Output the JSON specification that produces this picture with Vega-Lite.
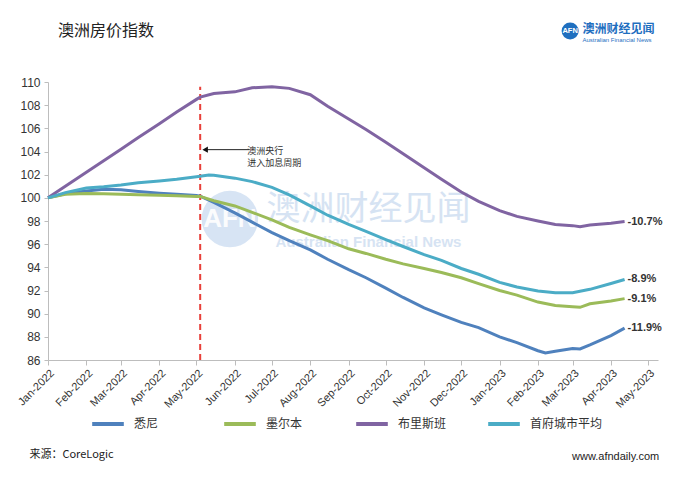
{
  "$schema": "https://vega.github.io/schema/vega-lite/v6.json",
  "width": 610,
  "height": 278,
  "autosize": {"type": "none"},
  "padding": {"left": 48, "top": 82, "right": 20, "bottom": 118},
  "background": "white",
  "config": {
    "view": {"stroke": null},
    "font": "Liberation Sans",
    "axis": {"labelFont": "Liberation Sans", "domainColor": "#bdbdbd", "tickColor": "#bdbdbd", "labelColor": "#333333", "grid": false, "title": null},
    "legend": {"labelFont": "Noto Sans CJK SC"}
  },
  "data": {"values": [
    {"date": "2022-01-01", "city": "悉尼", "value": 100},
    {"date": "2022-01-15", "city": "悉尼", "value": 100.35},
    {"date": "2022-02-01", "city": "悉尼", "value": 100.6},
    {"date": "2022-02-15", "city": "悉尼", "value": 100.75},
    {"date": "2022-03-01", "city": "悉尼", "value": 100.7},
    {"date": "2022-03-15", "city": "悉尼", "value": 100.55},
    {"date": "2022-04-01", "city": "悉尼", "value": 100.4},
    {"date": "2022-04-15", "city": "悉尼", "value": 100.3},
    {"date": "2022-05-01", "city": "悉尼", "value": 100.2},
    {"date": "2022-05-04", "city": "悉尼", "value": 100.15},
    {"date": "2022-05-15", "city": "悉尼", "value": 99.6},
    {"date": "2022-06-01", "city": "悉尼", "value": 98.7},
    {"date": "2022-06-15", "city": "悉尼", "value": 97.9},
    {"date": "2022-07-01", "city": "悉尼", "value": 97.0},
    {"date": "2022-07-15", "city": "悉尼", "value": 96.3},
    {"date": "2022-08-01", "city": "悉尼", "value": 95.5},
    {"date": "2022-08-15", "city": "悉尼", "value": 94.7},
    {"date": "2022-09-01", "city": "悉尼", "value": 93.8},
    {"date": "2022-09-15", "city": "悉尼", "value": 93.1},
    {"date": "2022-10-01", "city": "悉尼", "value": 92.2},
    {"date": "2022-10-15", "city": "悉尼", "value": 91.4},
    {"date": "2022-11-01", "city": "悉尼", "value": 90.5},
    {"date": "2022-11-15", "city": "悉尼", "value": 89.9},
    {"date": "2022-12-01", "city": "悉尼", "value": 89.25},
    {"date": "2022-12-15", "city": "悉尼", "value": 88.8},
    {"date": "2023-01-01", "city": "悉尼", "value": 88.0},
    {"date": "2023-01-15", "city": "悉尼", "value": 87.5},
    {"date": "2023-02-01", "city": "悉尼", "value": 86.8},
    {"date": "2023-02-07", "city": "悉尼", "value": 86.6},
    {"date": "2023-02-15", "city": "悉尼", "value": 86.75},
    {"date": "2023-03-01", "city": "悉尼", "value": 87.0},
    {"date": "2023-03-07", "city": "悉尼", "value": 86.95},
    {"date": "2023-03-15", "city": "悉尼", "value": 87.3},
    {"date": "2023-04-01", "city": "悉尼", "value": 88.1},
    {"date": "2023-04-12", "city": "悉尼", "value": 88.75},
    {"date": "2022-01-01", "city": "墨尔本", "value": 100},
    {"date": "2022-01-15", "city": "墨尔本", "value": 100.3},
    {"date": "2022-02-01", "city": "墨尔本", "value": 100.38},
    {"date": "2022-02-15", "city": "墨尔本", "value": 100.36},
    {"date": "2022-03-01", "city": "墨尔本", "value": 100.32},
    {"date": "2022-03-15", "city": "墨尔本", "value": 100.27},
    {"date": "2022-04-01", "city": "墨尔本", "value": 100.22},
    {"date": "2022-04-15", "city": "墨尔本", "value": 100.18},
    {"date": "2022-05-01", "city": "墨尔本", "value": 100.12},
    {"date": "2022-05-04", "city": "墨尔本", "value": 100.12},
    {"date": "2022-05-15", "city": "墨尔本", "value": 99.75},
    {"date": "2022-06-01", "city": "墨尔本", "value": 99.3},
    {"date": "2022-06-15", "city": "墨尔本", "value": 98.75},
    {"date": "2022-07-01", "city": "墨尔本", "value": 98.1},
    {"date": "2022-07-15", "city": "墨尔本", "value": 97.45},
    {"date": "2022-08-01", "city": "墨尔本", "value": 96.8},
    {"date": "2022-08-15", "city": "墨尔本", "value": 96.3},
    {"date": "2022-09-01", "city": "墨尔本", "value": 95.6},
    {"date": "2022-09-15", "city": "墨尔本", "value": 95.2},
    {"date": "2022-10-01", "city": "墨尔本", "value": 94.7},
    {"date": "2022-10-15", "city": "墨尔本", "value": 94.3},
    {"date": "2022-11-01", "city": "墨尔本", "value": 93.9},
    {"date": "2022-11-15", "city": "墨尔本", "value": 93.55},
    {"date": "2022-12-01", "city": "墨尔本", "value": 93.1},
    {"date": "2022-12-15", "city": "墨尔本", "value": 92.6},
    {"date": "2023-01-01", "city": "墨尔本", "value": 92.0},
    {"date": "2023-01-15", "city": "墨尔本", "value": 91.6},
    {"date": "2023-02-01", "city": "墨尔本", "value": 91.0},
    {"date": "2023-02-15", "city": "墨尔本", "value": 90.7},
    {"date": "2023-03-01", "city": "墨尔本", "value": 90.6},
    {"date": "2023-03-07", "city": "墨尔本", "value": 90.55},
    {"date": "2023-03-15", "city": "墨尔本", "value": 90.85},
    {"date": "2023-04-01", "city": "墨尔本", "value": 91.1},
    {"date": "2023-04-12", "city": "墨尔本", "value": 91.3},
    {"date": "2022-01-01", "city": "布里斯班", "value": 100},
    {"date": "2022-01-15", "city": "布里斯班", "value": 101.0},
    {"date": "2022-02-01", "city": "布里斯班", "value": 102.2},
    {"date": "2022-02-15", "city": "布里斯班", "value": 103.2},
    {"date": "2022-03-01", "city": "布里斯班", "value": 104.2},
    {"date": "2022-03-15", "city": "布里斯班", "value": 105.2},
    {"date": "2022-04-01", "city": "布里斯班", "value": 106.4},
    {"date": "2022-04-15", "city": "布里斯班", "value": 107.4},
    {"date": "2022-05-01", "city": "布里斯班", "value": 108.5},
    {"date": "2022-05-04", "city": "布里斯班", "value": 108.7},
    {"date": "2022-05-15", "city": "布里斯班", "value": 109.0},
    {"date": "2022-06-01", "city": "布里斯班", "value": 109.15},
    {"date": "2022-06-15", "city": "布里斯班", "value": 109.5},
    {"date": "2022-07-01", "city": "布里斯班", "value": 109.6},
    {"date": "2022-07-15", "city": "布里斯班", "value": 109.45},
    {"date": "2022-08-01", "city": "布里斯班", "value": 108.9},
    {"date": "2022-08-15", "city": "布里斯班", "value": 107.9},
    {"date": "2022-09-01", "city": "布里斯班", "value": 106.8},
    {"date": "2022-09-15", "city": "布里斯班", "value": 105.9},
    {"date": "2022-10-01", "city": "布里斯班", "value": 104.8},
    {"date": "2022-10-15", "city": "布里斯班", "value": 103.8},
    {"date": "2022-11-01", "city": "布里斯班", "value": 102.6},
    {"date": "2022-11-15", "city": "布里斯班", "value": 101.6},
    {"date": "2022-12-01", "city": "布里斯班", "value": 100.5},
    {"date": "2022-12-15", "city": "布里斯班", "value": 99.7},
    {"date": "2023-01-01", "city": "布里斯班", "value": 98.9},
    {"date": "2023-01-15", "city": "布里斯班", "value": 98.4},
    {"date": "2023-02-01", "city": "布里斯班", "value": 98.0},
    {"date": "2023-02-15", "city": "布里斯班", "value": 97.7},
    {"date": "2023-03-01", "city": "布里斯班", "value": 97.6},
    {"date": "2023-03-07", "city": "布里斯班", "value": 97.5},
    {"date": "2023-03-15", "city": "布里斯班", "value": 97.65},
    {"date": "2023-04-01", "city": "布里斯班", "value": 97.8},
    {"date": "2023-04-12", "city": "布里斯班", "value": 97.95},
    {"date": "2022-01-01", "city": "首府城市平均", "value": 100},
    {"date": "2022-01-15", "city": "首府城市平均", "value": 100.45},
    {"date": "2022-02-01", "city": "首府城市平均", "value": 100.85},
    {"date": "2022-02-15", "city": "首府城市平均", "value": 100.95},
    {"date": "2022-03-01", "city": "首府城市平均", "value": 101.1},
    {"date": "2022-03-15", "city": "首府城市平均", "value": 101.3},
    {"date": "2022-04-01", "city": "首府城市平均", "value": 101.45},
    {"date": "2022-04-15", "city": "首府城市平均", "value": 101.6},
    {"date": "2022-05-01", "city": "首府城市平均", "value": 101.82},
    {"date": "2022-05-11", "city": "首府城市平均", "value": 101.98},
    {"date": "2022-05-15", "city": "首府城市平均", "value": 101.95},
    {"date": "2022-06-01", "city": "首府城市平均", "value": 101.7},
    {"date": "2022-06-15", "city": "首府城市平均", "value": 101.4},
    {"date": "2022-07-01", "city": "首府城市平均", "value": 100.9},
    {"date": "2022-07-15", "city": "首府城市平均", "value": 100.25},
    {"date": "2022-08-01", "city": "首府城市平均", "value": 99.3},
    {"date": "2022-08-15", "city": "首府城市平均", "value": 98.5},
    {"date": "2022-09-01", "city": "首府城市平均", "value": 97.7},
    {"date": "2022-09-15", "city": "首府城市平均", "value": 97.1},
    {"date": "2022-10-01", "city": "首府城市平均", "value": 96.4},
    {"date": "2022-10-15", "city": "首府城市平均", "value": 95.8},
    {"date": "2022-11-01", "city": "首府城市平均", "value": 95.1},
    {"date": "2022-11-15", "city": "首府城市平均", "value": 94.6},
    {"date": "2022-12-01", "city": "首府城市平均", "value": 93.9},
    {"date": "2022-12-15", "city": "首府城市平均", "value": 93.4},
    {"date": "2023-01-01", "city": "首府城市平均", "value": 92.7},
    {"date": "2023-01-15", "city": "首府城市平均", "value": 92.3},
    {"date": "2023-02-01", "city": "首府城市平均", "value": 91.95},
    {"date": "2023-02-15", "city": "首府城市平均", "value": 91.8},
    {"date": "2023-03-01", "city": "首府城市平均", "value": 91.8},
    {"date": "2023-03-15", "city": "首府城市平均", "value": 92.1},
    {"date": "2023-04-01", "city": "首府城市平均", "value": 92.6},
    {"date": "2023-04-12", "city": "首府城市平均", "value": 92.95}
  ]},
  "layer": [
    {
      "data": {"values": [{}]},
      "mark": {"type": "point", "filled": true, "shape": "circle", "size": 3200, "color": "#bcd2ec", "opacity": 0.6},
      "encoding": {
        "x": {
          "datum": {"year": 2022, "month": 5, "date": 28}, "type": "temporal",
          "scale": {"domain": [{"year": 2022, "month": 1, "date": 1}, {"year": 2023, "month": 5, "date": 9}], "nice": false},
          "axis": {"format": "%b-%Y", "tickCount": {"interval": "month", "step": 1}, "labelAngle": -45, "labelFontSize": 11, "tickSize": 5, "labelPadding": 2, "labelOverlap": false, "labelFlush": false}
        },
        "y": {
          "datum": 98.17, "type": "quantitative",
          "scale": {"domain": [86, 110], "nice": false, "zero": false},
          "axis": {"values": [86, 88, 90, 92, 94, 96, 98, 100, 102, 104, 106, 108, 110], "tickCount": 20, "labelFontSize": 12, "tickSize": 4, "labelPadding": 4, "labelOverlap": false, "labelFlush": false}
        }
      }
    },
    {
      "data": {"values": [{}]},
      "mark": {"type": "text", "text": "AFN", "font": "Liberation Sans", "fontSize": 26, "fontWeight": "bold", "color": "white", "opacity": 0.9, "align": "center", "baseline": "middle"},
      "encoding": {
        "x": {"datum": {"year": 2022, "month": 5, "date": 28}, "type": "temporal"},
        "y": {"datum": 98.17, "type": "quantitative"}
      }
    },
    {
      "data": {"values": [{}]},
      "mark": {"type": "text", "text": "澳洲财经见闻", "font": "Noto Sans CJK SC", "fontSize": 34, "color": "#c6d8ee", "opacity": 0.7, "align": "center", "baseline": "middle"},
      "encoding": {
        "x": {"datum": {"year": 2022, "month": 9, "date": 17}, "type": "temporal"},
        "y": {"datum": 98.95, "type": "quantitative"}
      }
    },
    {
      "data": {"values": [{}]},
      "mark": {"type": "text", "text": "Australian Financial News", "font": "Liberation Sans", "fontSize": 15, "fontWeight": "bold", "color": "#c6d8ee", "opacity": 0.7, "align": "center", "baseline": "middle"},
      "encoding": {
        "x": {"datum": {"year": 2022, "month": 9, "date": 17}, "type": "temporal"},
        "y": {"datum": 96.19, "type": "quantitative"}
      }
    },
    {
      "data": {"values": [{}]},
      "mark": {"type": "rule", "color": "#e8403a", "strokeWidth": 2, "strokeDash": [6, 4]},
      "encoding": {
        "x": {"datum": {"year": 2022, "month": 5, "date": 4}, "type": "temporal"},
        "y": {"datum": 86, "type": "quantitative"},
        "y2": {"datum": 109.6}
      }
    },
    {
      "mark": {"type": "line", "strokeWidth": 3, "interpolate": "linear"},
      "encoding": {
        "x": {"field": "date", "type": "temporal"},
        "y": {"field": "value", "type": "quantitative"},
        "color": {
          "field": "city", "type": "nominal",
          "scale": {"domain": ["悉尼", "墨尔本", "布里斯班", "首府城市平均"], "range": ["#4f81bd", "#9bbb59", "#8064a2", "#4bacc6"]},
          "legend": {"title": null, "orient": "none", "legendX": 42, "legendY": 324, "direction": "horizontal", "columns": 4, "symbolType": "stroke", "symbolSize": 1000, "symbolStrokeWidth": 4, "labelFontSize": 12, "labelColor": "#333333", "columnPadding": 9, "gridAlign": "all", "labelOffset": 8}
        }
      }
    },
    {
      "data": {"values": [
        {"date": "2023-04-12", "value": 97.95, "label": "-10.7%"},
        {"date": "2023-04-12", "value": 92.95, "label": "-8.9%"},
        {"date": "2023-04-12", "value": 91.3, "label": "-9.1%"},
        {"date": "2023-04-12", "value": 88.75, "label": "-11.9%"}
      ]},
      "mark": {"type": "text", "align": "left", "baseline": "middle", "dx": 3, "fontSize": 11, "fontWeight": "bold", "color": "#333333", "font": "Liberation Sans"},
      "encoding": {
        "x": {"field": "date", "type": "temporal"},
        "y": {"field": "value", "type": "quantitative"},
        "text": {"field": "label", "type": "nominal"}
      }
    },
    {
      "data": {"values": [{}]},
      "mark": {"type": "rule", "color": "#222222", "strokeWidth": 1},
      "encoding": {
        "x": {"datum": {"year": 2022, "month": 6, "date": 13}, "type": "temporal"},
        "x2": {"datum": {"year": 2022, "month": 5, "date": 9}},
        "y": {"datum": 104.16, "type": "quantitative"}
      }
    },
    {
      "data": {"values": [{}]},
      "mark": {"type": "point", "shape": "triangle-left", "filled": true, "size": 40, "color": "#111111", "opacity": 1},
      "encoding": {
        "x": {"datum": {"year": 2022, "month": 5, "date": 8}, "type": "temporal"},
        "y": {"datum": 104.16, "type": "quantitative"}
      }
    },
    {
      "data": {"values": [{}]},
      "mark": {"type": "text", "text": ["澳洲央行", "进入加息周期"], "lineHeight": 12, "font": "Noto Sans CJK SC", "fontSize": 9, "color": "#333333", "align": "left", "baseline": "middle"},
      "encoding": {
        "x": {"datum": {"year": 2022, "month": 6, "date": 11}, "type": "temporal"},
        "y": {"datum": 104.08, "type": "quantitative"}
      }
    },
    {
      "data": {"values": [{}]},
      "mark": {"type": "text", "text": "澳洲房价指数", "font": "Noto Sans CJK SC", "fontSize": 16, "color": "#222222", "align": "left", "baseline": "middle"},
      "encoding": {
        "x": {"datum": {"year": 2022, "month": 1, "date": 9}, "type": "temporal"},
        "y": {"datum": 114.4, "type": "quantitative"}
      }
    },
    {
      "data": {"values": [{}]},
      "mark": {"type": "point", "filled": true, "shape": "circle", "size": 290, "color": "#1f6fbf", "opacity": 1},
      "encoding": {
        "x": {"datum": {"year": 2023, "month": 2, "date": 27}, "type": "temporal"},
        "y": {"datum": 114.4, "type": "quantitative"}
      }
    },
    {
      "data": {"values": [{}]},
      "mark": {"type": "text", "text": "AFN", "font": "Liberation Sans", "fontSize": 7.5, "fontWeight": "bold", "color": "white", "align": "center", "baseline": "middle"},
      "encoding": {
        "x": {"datum": {"year": 2023, "month": 2, "date": 27}, "type": "temporal"},
        "y": {"datum": 114.4, "type": "quantitative"}
      }
    },
    {
      "data": {"values": [{}]},
      "mark": {"type": "text", "text": "澳洲财经见闻", "font": "Noto Sans CJK SC", "fontSize": 12, "fontWeight": "bold", "color": "#1f6fbf", "align": "left", "baseline": "middle"},
      "encoding": {
        "x": {"datum": {"year": 2023, "month": 3, "date": 9}, "type": "temporal"},
        "y": {"datum": 114.6, "type": "quantitative"}
      }
    },
    {
      "data": {"values": [{}]},
      "mark": {"type": "text", "text": "Australian Financial News", "font": "Liberation Sans", "fontSize": 6, "color": "#1f6fbf", "align": "left", "baseline": "middle"},
      "encoding": {
        "x": {"datum": {"year": 2023, "month": 3, "date": 9}, "type": "temporal"},
        "y": {"datum": 113.65, "type": "quantitative"}
      }
    },
    {
      "data": {"values": [{}]},
      "mark": {"type": "text", "text": "来源：CoreLogic", "font": "Noto Sans CJK SC", "fontSize": 11, "color": "#222222", "align": "left", "baseline": "middle"},
      "encoding": {
        "x": {"datum": {"year": 2021, "month": 12, "date": 17}, "type": "temporal"},
        "y": {"datum": 77.8, "type": "quantitative"}
      }
    },
    {
      "data": {"values": [{}]},
      "mark": {"type": "text", "text": "www.afndaily.com", "font": "Liberation Sans", "fontSize": 11, "color": "#222222", "align": "right", "baseline": "middle"},
      "encoding": {
        "x": {"datum": {"year": 2023, "month": 5, "date": 10}, "type": "temporal"},
        "y": {"datum": 77.6, "type": "quantitative"}
      }
    }
  ]
}
